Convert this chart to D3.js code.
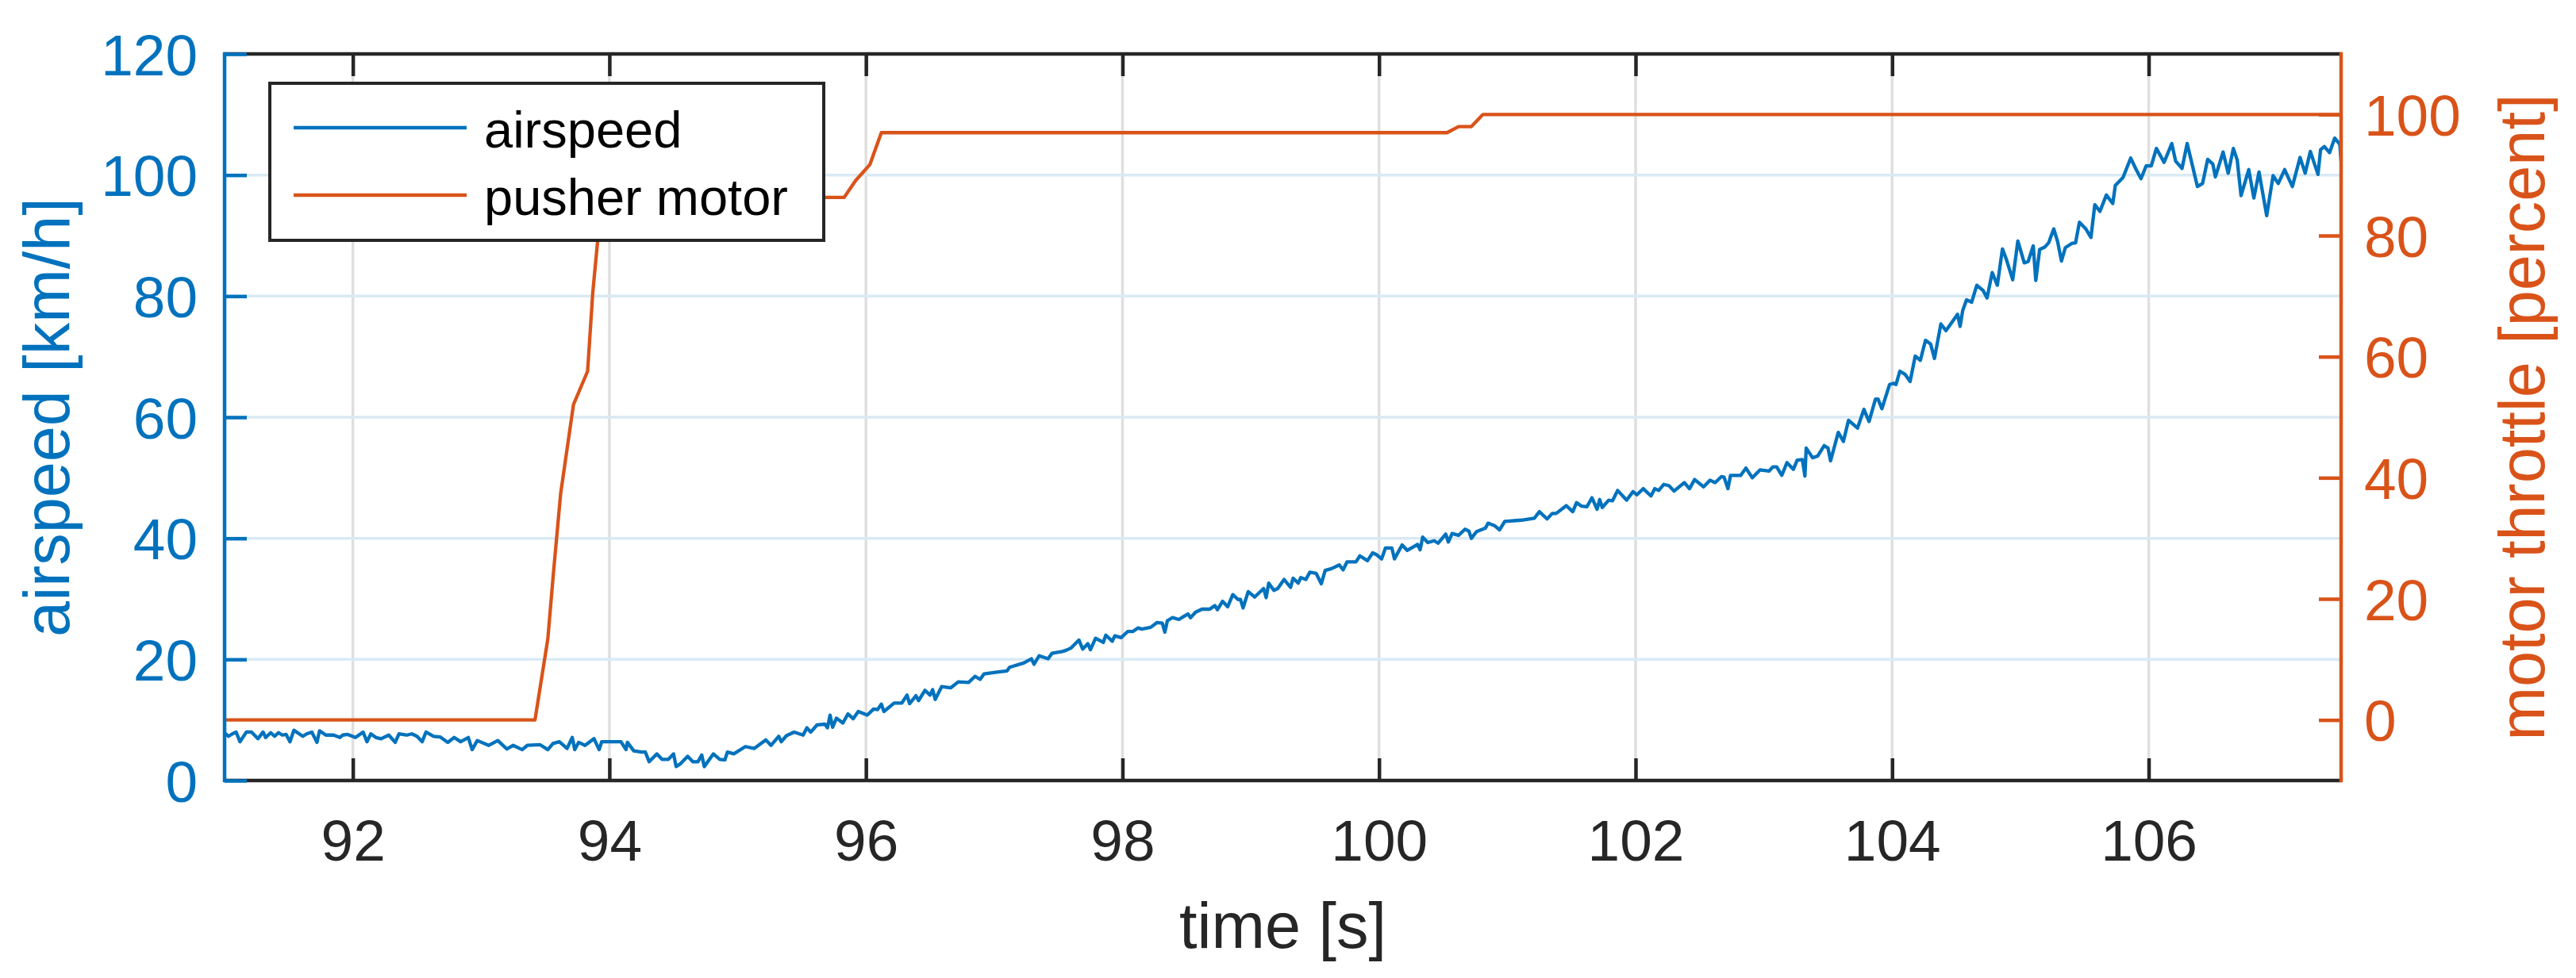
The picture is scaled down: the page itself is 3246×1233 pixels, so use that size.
<!DOCTYPE html>
<html>
<meta charset="utf-8">
<script src="https://cdn.jsdelivr.net/npm/d3@7"></script>
<style>
body{
	margin: 0;
	background: #fff;
}
#chart text{
	font-family: "Liberation Sans", Arial, Helvetica, sans-serif;
}
</style>
<body>
	<svg id="chart" width="3246" height="1233"></svg>
</body>
<script>
// ---- data ----
const xTicks = [92, 94, 96, 98, 100, 102, 104, 106];
const leftTicks = [0, 20, 40, 60, 80, 100, 120];
const rightTicks = [0, 20, 40, 60, 80, 100];
const seriesNames = ["airspeed", "pusher motor"];

// airspeed [km/h]
const airspeedTime = [
	91.00,91.03,91.06,91.09,91.12,91.17,91.21,91.26,91.30,91.32,91.36,91.39,91.42,91.45,91.48,91.51,91.54,91.61,91.64,91.68,
	91.72,91.74,91.79,91.85,91.90,91.92,91.96,92.02,92.08,92.11,92.14,92.18,92.22,92.28,92.33,92.36,92.42,92.46,92.50,92.54,
	92.57,92.63,92.68,92.74,92.79,92.84,92.90,92.93,92.97,93.06,93.13,93.20,93.25,93.32,93.36,93.46,93.52,93.56,93.61,93.67,
	93.71,93.73,93.76,93.81,93.88,93.92,93.94,94.02,94.09,94.13,94.14,94.19,94.25,94.28,94.31,94.37,94.41,94.46,94.50,94.52,
	94.55,94.61,94.65,94.69,94.72,94.74,94.81,94.86,94.90,94.92,94.97,95.06,95.13,95.22,95.26,95.32,95.34,95.38,95.44,95.51,
	95.54,95.57,95.62,95.68,95.70,95.72,95.74,95.77,95.82,95.86,95.90,95.94,96.01,96.06,96.09,96.12,96.14,96.22,96.28,96.32,
	96.34,96.39,96.41,96.46,96.50,96.52,96.54,96.59,96.66,96.72,96.80,96.85,96.89,96.92,97.02,97.10,97.12,97.23,97.29,97.31,
	97.35,97.42,97.45,97.53,97.56,97.60,97.66,97.69,97.73,97.75,97.79,97.85,97.87,97.92,97.94,97.99,98.04,98.08,98.12,98.15,
	98.22,98.27,98.31,98.33,98.35,98.39,98.44,98.47,98.51,98.53,98.57,98.62,98.68,98.72,98.74,98.78,98.82,98.86,98.90,98.92,
	98.94,98.98,99.03,99.10,99.12,99.14,99.18,99.21,99.26,99.31,99.33,99.37,99.39,99.43,99.46,99.51,99.55,99.58,99.63,99.69,
	99.72,99.75,99.82,99.85,99.91,99.95,99.98,100.02,100.05,100.10,100.12,100.18,100.22,100.30,100.32,100.34,100.38,100.43,100.46,100.52,
	100.54,100.57,100.62,100.67,100.70,100.72,100.76,100.83,100.85,100.90,100.94,100.98,101.11,101.21,101.25,101.31,101.35,101.38,101.46,101.51,
	101.54,101.58,101.62,101.66,101.70,101.72,101.74,101.79,101.82,101.86,101.93,101.98,102.01,102.06,102.12,102.15,102.18,102.22,102.26,102.30,
	102.38,102.42,102.46,102.53,102.58,102.62,102.67,102.69,102.72,102.74,102.82,102.86,102.91,102.97,103.04,103.07,103.10,103.14,103.18,103.23,
	103.26,103.30,103.32,103.33,103.38,103.42,103.47,103.50,103.52,103.58,103.62,103.66,103.73,103.78,103.82,103.87,103.89,103.92,103.98,104.01,
	104.03,104.06,104.10,104.14,104.18,104.22,104.26,104.30,104.33,104.38,104.42,104.51,104.53,104.55,104.58,104.62,104.66,104.71,104.74,104.78,
	104.82,104.86,104.89,104.94,104.98,105.03,105.06,105.10,105.12,105.15,105.19,105.22,105.26,105.29,105.32,105.35,105.40,105.43,105.46,105.51,
	105.55,105.58,105.62,105.67,105.72,105.74,105.80,105.86,105.90,105.94,105.98,106.02,106.06,106.12,106.18,106.21,106.26,106.30,106.38,106.42,
	106.46,106.50,106.52,106.58,106.62,106.66,106.69,106.72,106.78,106.82,106.86,106.92,106.97,107.01,107.06,107.12,107.18,107.22,107.26,107.32,
	107.34,107.37,107.41,107.45,107.49,107.50
];
const airspeedKmh = [
	7.9,7.3,7.7,8.0,6.4,8.0,8.0,6.9,8.0,7.1,7.9,7.3,7.9,7.5,7.6,6.4,8.3,7.3,7.7,8.0,
	6.3,8.2,7.5,7.5,7.1,7.5,7.6,7.1,8.0,6.4,7.7,7.1,6.9,7.5,6.3,7.7,7.5,7.7,7.3,6.4,
	8.0,7.3,7.2,6.3,7.1,6.4,7.1,5.1,6.6,5.8,6.6,5.2,5.8,5.1,5.8,5.9,5.1,6.1,6.4,5.3,
	7.1,5.1,6.3,5.8,6.9,5.1,6.4,6.4,6.4,5.1,6.3,4.9,4.7,4.7,3.1,4.4,3.5,3.5,4.4,2.3,
	2.7,4.0,3.1,3.1,4.2,2.3,4.4,3.5,3.4,4.7,4.4,5.6,5.3,6.7,5.8,7.3,6.4,7.4,8.0,7.5,
	8.7,8.0,9.2,9.3,8.7,10.8,8.8,10.3,9.5,11.0,10.2,11.4,10.8,11.8,11.7,12.6,11.4,12.8,12.8,14.1,
	12.7,14.0,13.2,14.9,14.1,15.0,13.4,15.5,15.3,16.3,16.2,17.2,16.7,17.6,17.9,18.1,18.7,19.4,20.1,19.2,
	20.6,20.1,21.0,21.3,21.5,21.9,23.2,21.7,22.6,21.6,23.5,22.8,24.0,23.0,23.9,23.6,24.6,24.6,25.2,25.0,
	25.3,26.1,26.0,24.5,26.4,26.9,26.6,27.0,27.5,26.9,27.8,28.3,28.3,28.9,28.2,29.6,28.7,30.7,29.9,29.9,
	28.5,31.2,30.3,31.7,30.2,32.6,31.4,31.7,33.2,31.9,33.4,32.6,33.5,33.2,34.4,34.2,32.5,34.7,35.0,35.6,
	34.8,36.1,36.1,37.1,36.3,37.6,37.3,36.6,38.4,38.4,36.6,38.9,38.0,39.0,38.1,40.2,39.3,39.6,39.2,40.7,
	39.4,40.8,40.5,41.5,41.2,40.0,41.1,41.7,42.5,42.1,41.4,42.8,43.0,43.3,44.4,43.2,44.1,44.1,45.4,44.4,
	45.9,45.3,45.2,46.7,44.8,46.4,45.1,46.3,46.2,47.9,46.3,47.7,47.2,48.2,47.0,48.2,47.9,48.9,48.7,47.8,
	49.2,48.2,49.7,48.5,49.6,49.2,50.2,50.1,48.2,50.4,50.4,51.6,50.0,51.3,51.1,51.8,51.8,50.4,52.5,51.4,
	52.9,53.0,50.3,54.9,53.3,53.6,55.3,54.9,52.8,57.5,56.0,59.5,58.2,61.3,59.3,63.0,63.0,61.4,65.4,65.6,
	65.4,67.6,67.1,65.9,70.1,69.4,72.7,72.1,69.7,75.4,74.3,77.0,75.0,77.6,79.4,79.0,81.8,80.9,79.7,83.9,
	81.8,87.8,86.1,82.7,89.1,85.5,85.7,88.3,82.6,87.7,88.1,88.8,91.1,89.0,85.8,88.0,88.7,88.8,92.2,91.1,
	89.7,95.1,94.0,96.7,95.3,98.3,99.6,102.8,101.0,99.4,101.5,101.5,104.4,102.1,105.2,102.3,101.1,105.2,98.1,98.6,
	102.6,101.8,99.7,103.8,100.3,104.4,102.5,96.6,100.9,96.2,100.5,93.3,99.9,98.6,100.9,98.1,102.9,100.3,103.9,100.1,
	104.2,104.7,103.7,106.1,105.1,102.3
];

// pusher motor throttle [percent]
const throttleTime = [91.00, 93.42, 93.52, 93.565, 93.62, 93.72, 93.83, 93.87, 93.91, 93.96, 95.83, 95.92, 96.03, 96.12, 100.53, 100.62, 100.72, 100.81, 107.50];
const throttlePct  = [0, 0, 13.4, 24.6, 37.4, 52.1, 57.6, 70.5, 79.5, 86.3, 86.3, 89.1, 91.7, 97.0, 97.0, 98.0, 98.0, 100.0, 100.0];

// ---- layout ----
const blue = "#0072BD", orange = "#D95319", dark = "#262626";
const plot = {left: 283, right: 2950, top: 68, bottom: 984};
const lw = 4.5, tickLen = 28;

const svg = d3.select("#chart");

const x = d3.scaleLinear().domain([91, 107.5]).range([plot.left, plot.right]);
const yL = d3.scaleLinear().domain([0, 120]).range([plot.bottom, plot.top]);
const yR = d3.scaleLinear().domain([-10, 110]).range([plot.bottom, plot.top]);

// grid
svg.append("g")
	.selectAll("line")
	.data(xTicks)
	.join("line")
	.attr("x1", d => x(d)).attr("x2", d => x(d))
	.attr("y1", plot.top).attr("y2", plot.bottom)
	.attr("stroke", "#dfdfdf")
	.attr("stroke-width", 3.5);

svg.append("g")
	.selectAll("line")
	.data(leftTicks.filter(d => d > 0 && d < 120))
	.join("line")
	.attr("x1", plot.left).attr("x2", plot.right)
	.attr("y1", d => yL(d)).attr("y2", d => yL(d))
	.attr("stroke", "#d9eaf5")
	.attr("stroke-width", 3.5);

// lines
const lineL = d3.line().x((d, i) => x(airspeedTime[i])).y(d => yL(d));
const lineR = d3.line().x((d, i) => x(throttleTime[i])).y(d => yR(d));

svg.append("path")
	.datum(throttlePct)
	.attr("d", lineR)
	.attr("fill", "none")
	.attr("stroke", orange)
	.attr("stroke-width", 4.3)
	.attr("stroke-linejoin", "round");

svg.append("path")
	.datum(airspeedKmh)
	.attr("d", lineL)
	.attr("fill", "none")
	.attr("stroke", blue)
	.attr("stroke-width", 4.3)
	.attr("stroke-linejoin", "round");

// axes
function styleAxis(g, color){
	g.attr("font-size", 73)
		.attr("font-family", '"Liberation Sans", Arial, Helvetica, sans-serif')
		.attr("color", color);
	g.select(".domain").remove();
	g.selectAll(".tick line").attr("stroke-width", lw);
}

svg.append("g")
	.attr("transform", "translate(0," + plot.bottom + ")")
	.call(d3.axisBottom(x).tickValues(xTicks).tickFormat(d3.format("d"))
		.tickSizeInner(-tickLen).tickSizeOuter(0).tickPadding(49))
	.call(g => styleAxis(g, dark));

svg.append("g")
	.attr("transform", "translate(0," + plot.top + ")")
	.call(d3.axisTop(x).tickValues(xTicks).tickFormat("")
		.tickSizeInner(-tickLen).tickSizeOuter(0))
	.call(g => styleAxis(g, dark));

// box lines
svg.append("line")
	.attr("x1", plot.left).attr("x2", plot.right)
	.attr("y1", plot.bottom).attr("y2", plot.bottom)
	.attr("stroke", dark).attr("stroke-width", lw);
svg.append("line")
	.attr("x1", plot.left).attr("x2", plot.right)
	.attr("y1", plot.top).attr("y2", plot.top)
	.attr("stroke", dark).attr("stroke-width", lw);

svg.append("g")
	.attr("transform", "translate(" + plot.left + ",0)")
	.call(d3.axisLeft(yL).tickValues(leftTicks)
		.tickSizeInner(-tickLen).tickSizeOuter(0).tickPadding(34))
	.call(g => styleAxis(g, blue))
	.call(g => g.selectAll(".tick text").attr("dy", "0.36em"));

svg.append("g")
	.attr("transform", "translate(" + plot.right + ",0)")
	.call(d3.axisRight(yR).tickValues(rightTicks)
		.tickSizeInner(-tickLen).tickSizeOuter(0).tickPadding(29))
	.call(g => styleAxis(g, orange))
	.call(g => g.selectAll(".tick text").attr("dy", "0.36em"));

svg.append("line")
	.attr("x1", plot.left).attr("x2", plot.left)
	.attr("y1", plot.top - lw / 2).attr("y2", plot.bottom + lw / 2)
	.attr("stroke", blue).attr("stroke-width", lw);
svg.append("line")
	.attr("x1", plot.right).attr("x2", plot.right)
	.attr("y1", plot.top - lw / 2).attr("y2", plot.bottom + lw / 2)
	.attr("stroke", orange).attr("stroke-width", lw);

// axis labels
const midY = (plot.top + plot.bottom) / 2;
svg.append("text")
	.attr("x", (plot.left + plot.right) / 2)
	.attr("y", 1195)
	.attr("text-anchor", "middle")
	.attr("font-size", 81)
	.attr("fill", dark)
	.text("time [s]");

svg.append("text")
	.attr("transform", "translate(87," + midY + ") rotate(-90)")
	.attr("text-anchor", "middle")
	.attr("font-size", 81)
	.attr("fill", blue)
	.text("airspeed [km/h]");

svg.append("text")
	.attr("transform", "translate(3206," + midY + ") rotate(-90)")
	.attr("text-anchor", "middle")
	.attr("font-size", 81)
	.attr("fill", orange)
	.text("motor throttle [percent]");

// legend
const legend = svg.append("g").attr("transform", "translate(340,105)");
legend.append("rect")
	.attr("width", 698).attr("height", 198)
	.attr("fill", "#fff")
	.attr("stroke", dark)
	.attr("stroke-width", 4);

legend.selectAll("line.key")
	.data(seriesNames)
	.join("line")
	.attr("class", "key")
	.attr("x1", 30).attr("x2", 248)
	.attr("y1", (d, i) => 56 + i * 85).attr("y2", (d, i) => 56 + i * 85)
	.attr("stroke", (d, i) => i == 0 ? blue : orange)
	.attr("stroke-width", 4.3);

legend.selectAll("text")
	.data(seriesNames)
	.join("text")
	.attr("x", 270)
	.attr("y", (d, i) => 81 + i * 85)
	.attr("font-size", 65)
	.attr("fill", "#000")
	.text(d => d);
</script>
</html>
